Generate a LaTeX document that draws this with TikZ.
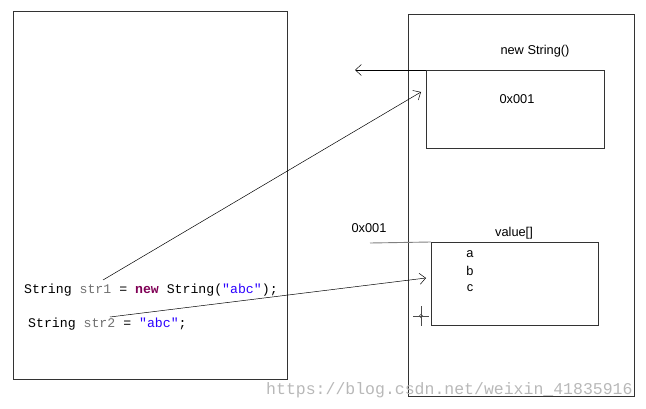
\documentclass[tikz,border=0pt]{standalone}
\usepackage{fontspec}
\setmainfont{Liberation Sans}
\setmonofont{Liberation Mono}
\usetikzlibrary{arrows.meta}
\definecolor{kwpurple}{HTML}{7F0055}
\definecolor{strblue}{HTML}{2A00FF}
\definecolor{vargray}{HTML}{707070}
\begin{document}
\begin{tikzpicture}[x=1pt, y=-1pt,
  frame/.style={draw=black!80, line width=0.7pt, inner sep=0pt, anchor=north west},
  label/.style={font=\fontsize{12.8}{14}\selectfont, inner sep=0pt},
  code/.style={font=\ttfamily\fontsize{13.2}{15}\selectfont, anchor=base west, inner sep=0pt},
  ref/.style={-{Straight Barb[length=6pt, width=11pt]}, line width=0.5pt}]
\useasboundingbox (0,0) rectangle (646,409);
% stack and heap
\node[frame, minimum width=274, minimum height=368] (stack) at (13,11) {};
\node[frame, minimum width=226, minimum height=382] (heap) at (408,14) {};
% objects on the heap
\node[label] (objname) at (535,51) {new String()};
\node[label] (objaddr) at (517,99) {0x001};
\node[frame, minimum width=178, minimum height=78] (obj) at (426,70) {};
\node[label] (valname) at (514,233) {value[]};
\node[frame, minimum width=167, minimum height=83] (val) at (431,242) {};
\foreach \y/\ch in {254/a, 271/b, 288/c}
  \node[label] (ch\ch) at (470,\y) {\ch};
\node[label] (valaddr) at (369,228) {0x001};
% code
\node[code] (line1) at (24,294) {String \textcolor{vargray}{str1} = \textcolor{kwpurple}{\bfseries new} String(\textcolor{strblue}{"abc"});};
\node[code] (line2) at (28,327) {String \textcolor{vargray}{str2} = \textcolor{strblue}{"abc"};};
% references
\coordinate (s1) at (103,280);
\coordinate (s2) at (110,317);
\coordinate (t1) at (421,92);
\coordinate (t2) at (426,278);
\coordinate (back) at (355,70);
\coordinate (addr) at (370,243);
\draw[ref] (s1) -- (t1);
\draw[ref] (s2) -- (t2);
\draw[ref] (obj.north west) -- (back);
\draw[black!50, line width=0.9pt] (addr) -- (val.north west);
% cursor mark
\draw[black!70, line width=0.5pt] (413,316) -- (429,316) (421,306) -- (421,326);
\draw[black!70, line width=0.5pt] (421,316) circle (1.8);
% watermark
\node[font=\ttfamily\fontsize{16.5}{18}\selectfont, text=black!28, anchor=base west, inner sep=0pt] (mark) at (266,394) {https://blog.csdn.net/weixin\_41835916};
\end{tikzpicture}
\end{document}
